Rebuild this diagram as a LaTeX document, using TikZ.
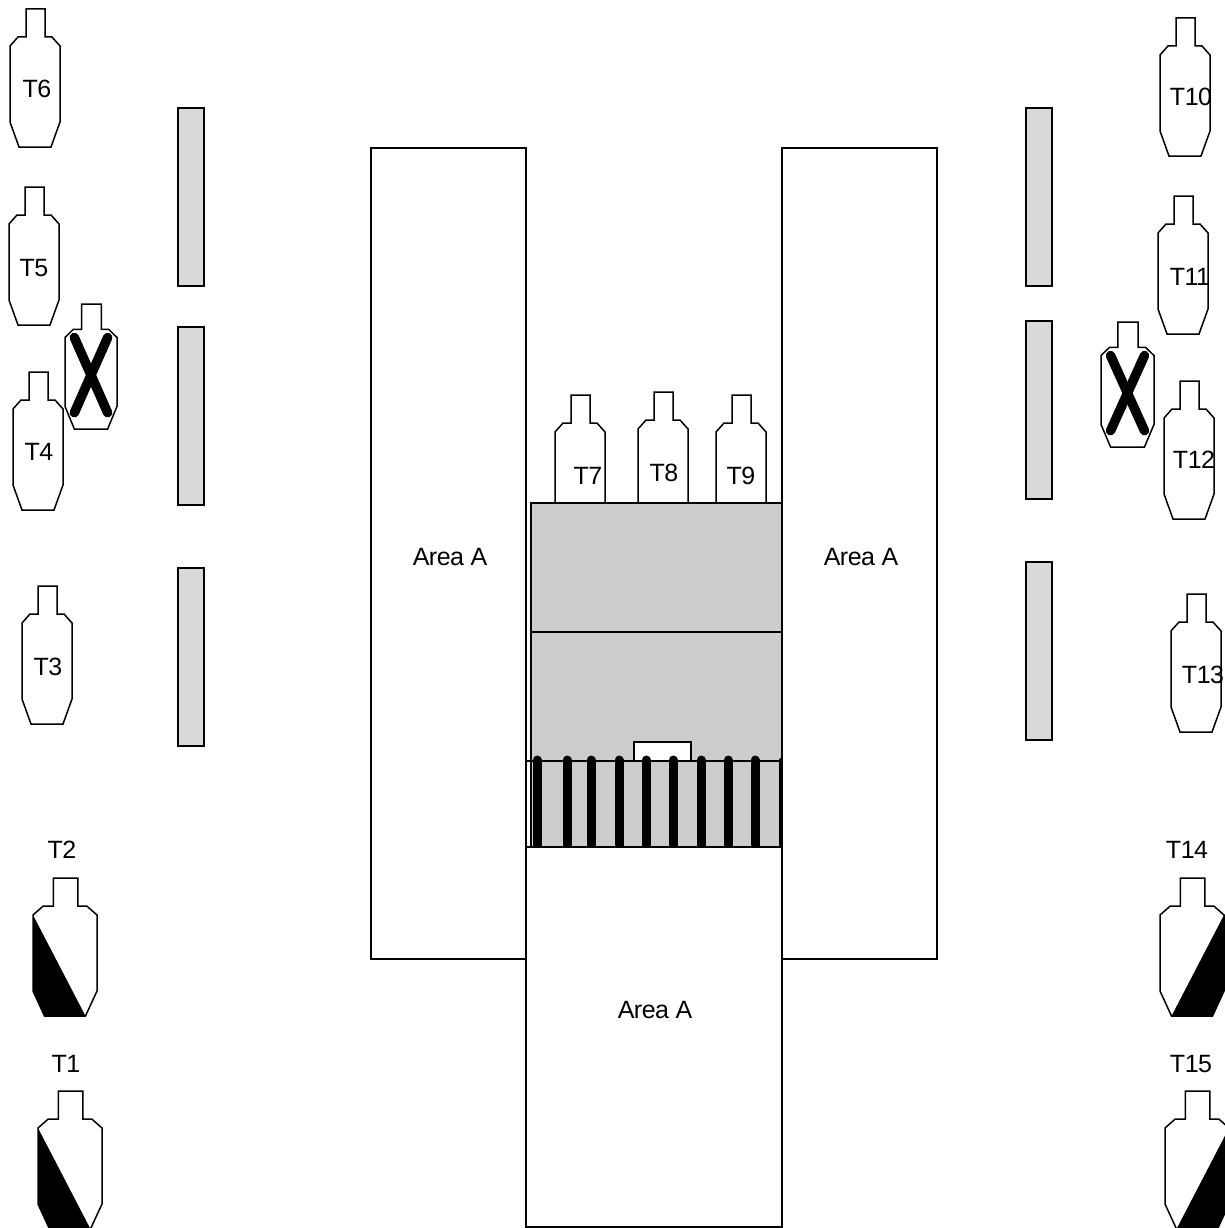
\documentclass[tikz,border=0pt]{standalone}
\usepackage{fontspec}
\setmainfont[LetterSpace=-2]{Liberation Sans}
\newcommand{\targetshape}{(16,0) -- (35,0) -- (35,28) -- (42,28) -- (50,37) -- (50,113)
  -- (41,138) -- (9,138) -- (0,113) -- (0,37) -- (8,28) -- (16,28) -- cycle}
\tikzset{
  outline/.style={line width=1.5pt, line join=miter},
  label/.style={inner sep=0pt, font=\fontsize{25}{30}\selectfont},
  area/.style={draw, line width=1.3pt, fill=white},
  bar/.style={draw, line width=1.3pt, fill=black!15},
  slat/.style={line width=9pt, line cap=round},
  target/.pic={
    \draw [outline, fill=white] \targetshape;
  },
  targetleft/.pic={
    \fill (0,37) -- (41,138) -- (9,138) -- (0,113) -- cycle;
    \draw [outline] \targetshape;
  },
  targetright/.pic={
    \fill (50,37) -- (50,113) -- (41,138) -- (9,138) -- cycle;
    \draw [outline] \targetshape;
  },
  targetcross/.pic={
    \draw [outline, fill=white] \targetshape;
    \draw [line width=9.5pt, line cap=round] (9,37) -- (41,120);
    \draw [line width=9.5pt, line cap=round] (41,37) -- (9,120);
  },
}

\begin{document}
\begin{tikzpicture}[x=1pt, y=-1pt]
\clip (0,0) rectangle (1225,1228); % page size

% side bars
\draw [bar] (178,108) rectangle (204,286);
\draw [bar] (178,327) rectangle (204,505);
\draw [bar] (178,568) rectangle (204,746);
\draw [bar] (1026,108) rectangle (1052,286);
\draw [bar] (1026,321) rectangle (1052,499);
\draw [bar] (1026,562) rectangle (1052,740);

% left targets
\pic at (10,9) {target};
\pic at (9,187) {target};
\pic at (65,304) [xscale=1.04, yscale=0.906] {targetcross};
\pic at (13,372) {target};
\pic at (22,586) {target};
\pic at (33,878) [xscale=1.28] {targetleft};
\pic at (38,1091) [xscale=1.28] {targetleft};

% right targets
\pic at (1160,18) {target};
\pic at (1158,196) {target};
\pic at (1101,322) [xscale=1.06, yscale=0.906] {targetcross};
\pic at (1164,381) {target};
\pic at (1171,594) {target};
\pic at (1160,878) [xscale=1.28] {targetright};
\pic at (1165,1091) [xscale=1.28] {targetright};

% middle targets
\pic at (555,395) {target};
\pic at (638,392) {target};
\pic at (716,395) {target};

% areas
\draw [area] (371,148) rectangle (526,959);
\draw [area] (782,148) rectangle (937,959);
\draw [bar, fill=black!20] (531,503) rectangle (782,847);
\draw [line width=1.3pt] (531,632) -- (782,632);
\draw [area] (634,742) rectangle (691,761);
\draw [line width=1.3pt] (526,761) -- (782,761);
\draw [slat] (537,760) -- (537,845);
\draw [slat] (567,760) -- (567,845);
\draw [slat] (591,760) -- (591,845);
\draw [slat] (619,760) -- (619,845);
\draw [slat] (646,760) -- (646,845);
\draw [slat] (673,760) -- (673,845);
\draw [slat] (701,760) -- (701,845);
\draw [slat] (728,760) -- (728,845);
\draw [slat] (755,760) -- (755,845);
\draw [line width=4pt, line cap=round] (781,760) -- (781,845);
\draw [area] (526,847) rectangle (782,1227);

% labels
\node [label] (t1) at (66,1064) {T1};
\node [label] (t2) at (62,850) {T2};
\node [label] (t3) at (48,667) {T3};
\node [label] (t4) at (39,452) {T4};
\node [label] (t5) at (34,268) {T5};
\node [label] (t6) at (37,89) {T6};
\node [label] (t7) at (588,476) {T7};
\node [label] (t8) at (664,473) {T8};
\node [label] (t9) at (741,476) {T9};
\node [label] (t10) at (1191,97) {T10};
\node [label] (t11) at (1190,277) {T11};
\node [label] (t12) at (1194,460) {T12};
\node [label] (t13) at (1203,675) {T13};
\node [label] (t14) at (1187,850) {T14};
\node [label] (t15) at (1191,1064) {T15};
\node [label] (leftarea) at (450,557) {Area A};
\node [label] (rightarea) at (861,557) {Area A};
\node [label] (bottomarea) at (655,1010) {Area A};
\end{tikzpicture}
\end{document}
